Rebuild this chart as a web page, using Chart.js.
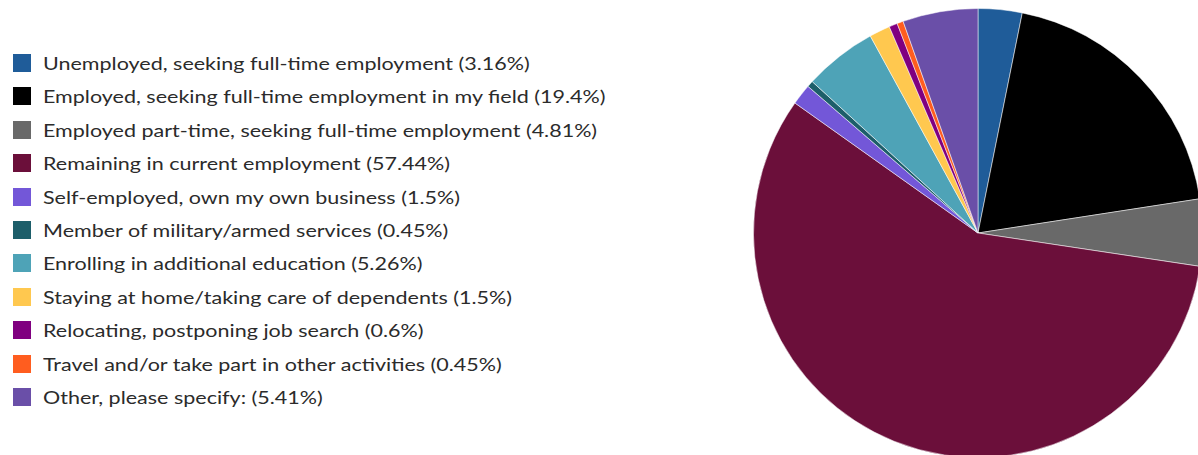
<!DOCTYPE html>
<html>
<head>
<meta charset="utf-8">
<script src="https://cdn.jsdelivr.net/npm/chart.js@4"></script>
<style>
  html, body { margin: 0; padding: 0; background: #fff; width: 1198px; height: 455px; overflow: hidden; }
  #legend { position: absolute; left: 13px; top: 54px; font-family: Lato, sans-serif; font-size: 17px; color: #2b2b2b; }
  #legend div { height: 33.4px; display: flex; align-items: flex-start; white-space: nowrap; }
  #legend span.box { display: inline-block; width: 18px; height: 18px; margin-right: 12px; box-sizing: border-box; flex: none; }
  #legend span.txt { display: inline-block; line-height: 19px; transform: scaleX(1.265); transform-origin: 0 50%; }
  #pie { position: absolute; left: 753px; top: 8px; }
</style>
</head>
<body>
<div id="legend"></div>
<canvas id="pie" width="450" height="450"></canvas>
<script>
const categories = [
  'Unemployed, seeking full-time employment',
  'Employed, seeking full-time employment in my field',
  'Employed part-time, seeking full-time employment',
  'Remaining in current employment',
  'Self-employed, own my own business',
  'Member of military/armed services',
  'Enrolling in additional education',
  'Staying at home/taking care of dependents',
  'Relocating, postponing job search',
  'Travel and/or take part in other activities',
  'Other, please specify:'
];
const percents = [3.16, 19.4, 4.81, 57.44, 1.5, 0.45, 5.26, 1.5, 0.6, 0.45, 5.41];
const colors = ['#1f5c99', '#000000', '#696969', '#6b0f3a', '#7357d8', '#1d5e6a',
  '#4ea3b7', '#ffc84f', '#800080', '#ff5d1f', '#6a4fa8'];

const labels = categories.map((c, i) => c + ' (' + percents[i] + '%)');

// legend built by hand on the left
const legend = document.getElementById('legend');
labels.forEach((l, i) => {
  const row = document.createElement('div');
  const box = document.createElement('span');
  box.className = 'box';
  box.style.background = colors[i];
  const txt = document.createElement('span');
  txt.className = 'txt';
  txt.textContent = l;
  row.appendChild(box);
  row.appendChild(txt);
  legend.appendChild(row);
});

new Chart(document.getElementById('pie'), {
  type: 'pie',
  data: {
    labels: labels,
    datasets: [{
      data: percents,
      backgroundColor: colors,
      borderColor: 'rgba(255,255,255,0.5)',
      borderWidth: 1
    }]
  },
  options: {
    responsive: false,
    animation: false,
    layout: { padding: 0 },
    plugins: {
      legend: { display: false },
      tooltip: { enabled: false }
    }
  }
});
</script>
</body>
</html>
